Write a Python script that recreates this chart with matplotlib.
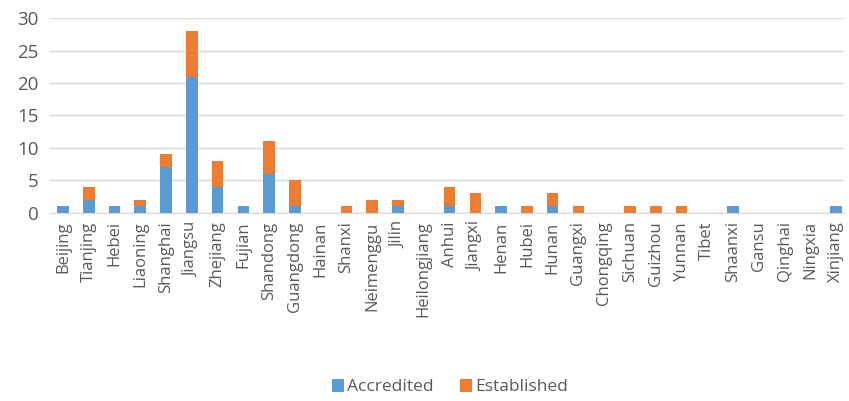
import numpy as np
import matplotlib.pyplot as plt

provinces = ["Beijing", "Tianjing", "Hebei", "Liaoning", "Shanghai", "Jiangsu",
             "Zhejiang", "Fujian", "Shandong", "Guangdong", "Hainan", "Shanxi",
             "Neimenggu", "Jilin", "Heilongjiang", "Anhui", "Jiangxi", "Henan",
             "Hubei", "Hunan", "Guangxi", "Chongqing", "Sichuan", "Guizhou",
             "Yunnan", "Tibet", "Shaanxi", "Gansu", "Qinghai", "Ningxia", "Xinjiang"]
accredited = [1, 2, 1, 1, 7, 21, 4, 1, 6, 1, 0, 0, 0, 1, 0, 1, 0, 1, 0, 1,
              0, 0, 0, 0, 0, 0, 1, 0, 0, 0, 1]
established = [0, 2, 0, 1, 2, 7, 4, 0, 5, 4, 0, 1, 2, 1, 0, 3, 3, 0, 1, 2,
               1, 0, 1, 1, 1, 0, 0, 0, 0, 0, 0]

plt.rcParams['font.family'] = ['Open Sans', 'DejaVu Sans']
fig = plt.figure(figsize=(8.49, 4.01), dpi=100)
ax = fig.add_axes([0.059, 0.469, 0.935, 0.486])

x = np.arange(len(provinces))
ax.bar(x, accredited, width=0.45, color="#5B9BD5", label="Accredited", zorder=3)
ax.bar(x, established, width=0.45, bottom=accredited, color="#ED7D31",
       label="Established", zorder=3)

ax.set_xlim(-0.5, len(provinces) - 0.7)
ax.set_ylim(0, 30)
ax.set_yticks(range(0, 31, 5))
ax.yaxis.grid(True, color="#D9D9D9", linewidth=1, zorder=0)
for s in ["top", "right", "left"]:
    ax.spines[s].set_visible(False)
ax.spines["bottom"].set_color("#D9D9D9")
ax.tick_params(axis="both", length=0, colors="#595959")
ax.tick_params(axis="y", labelsize=13.5, pad=8)
ax.tick_params(axis="x", pad=6)
ax.set_xticks(x)
ax.set_xticklabels(provinces, rotation=90, fontsize=12)

fig.legend(loc="lower center", ncol=2, frameon=False, fontsize=12.5,
           bbox_to_anchor=(0.53, -0.025), handlelength=0.7, handleheight=0.8,
           handletextpad=0.2, columnspacing=1.5, labelcolor="#595959")

fig.savefig("out.png", dpi=100)
